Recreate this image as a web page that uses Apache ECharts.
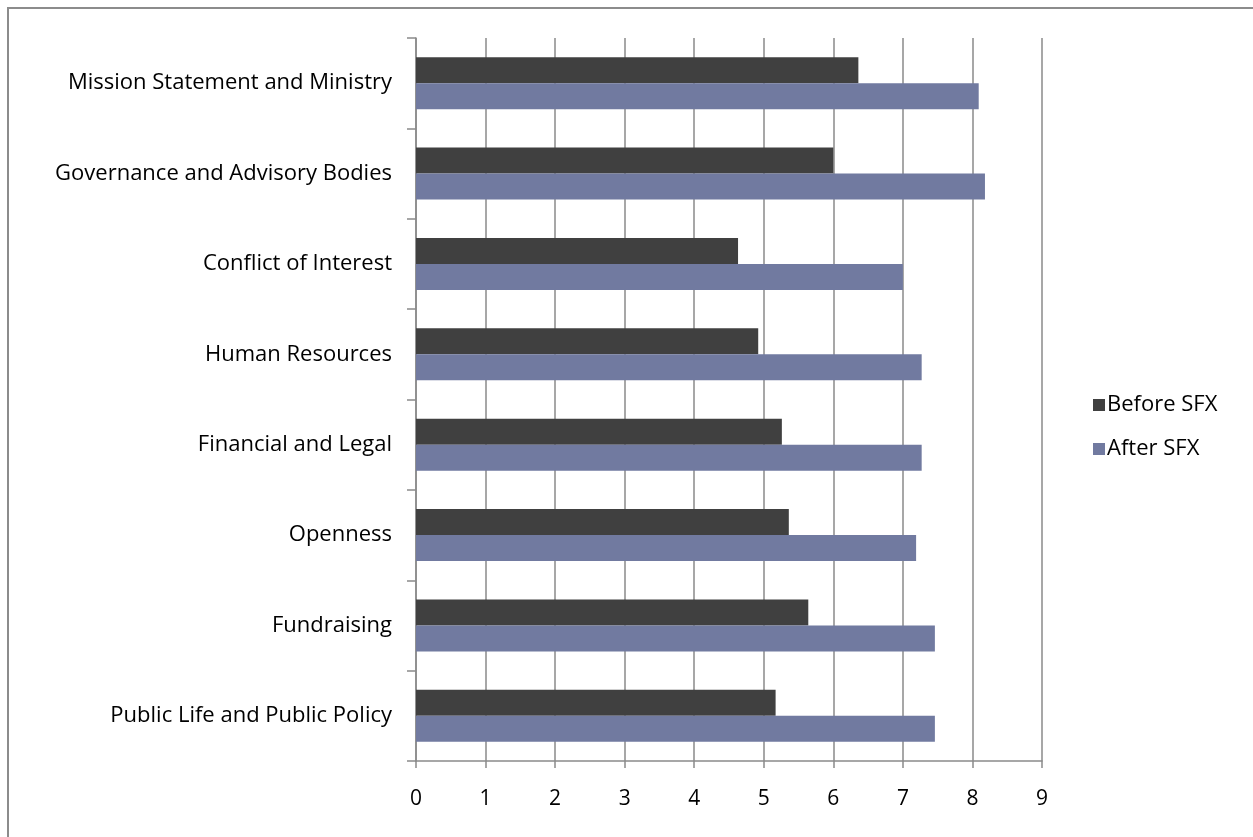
<!DOCTYPE html>
<html>
<head>
<meta charset="utf-8">
<script src="https://cdn.jsdelivr.net/npm/echarts@6/dist/echarts.min.js"></script>
<style>
  html, body { margin: 0; padding: 0; background: #fff; }
  #chart { width: 1253px; height: 837px; }
</style>
</head>
<body>
<div id="chart"></div>
<script>
// Survey areas, listed top to bottom
const categories = [
  'Mission Statement and Ministry',
  'Governance and Advisory Bodies',
  'Conflict of Interest',
  'Human Resources',
  'Financial and Legal',
  'Openness',
  'Fundraising',
  'Public Life and Public Policy'
];
const beforeSFX = [6.36, 6.0, 4.63, 4.92, 5.26, 5.36, 5.64, 5.17];
const afterSFX  = [8.09, 8.18, 7.0, 7.27, 7.27, 7.19, 7.46, 7.46];
const seriesNames = ['Before SFX', 'After SFX'];

const FONT = '"Open Sans", "DejaVu Sans", sans-serif';
const GRID_COLOR = '#8a8a8a';

const chart = echarts.init(document.getElementById('chart'));
chart.setOption({
  animation: false,
  textStyle: { fontFamily: FONT },
  graphic: [{
    type: 'rect',
    shape: { x: 8, y: 8, width: 1400, height: 1000 },
    style: { fill: 'none', stroke: '#8c8c8c', lineWidth: 2 },
    silent: true,
    z: -10
  }],
  legend: {
    orient: 'vertical',
    left: 1088,
    top: 389,
    itemWidth: 12,
    itemHeight: 12,
    itemGap: 22,
    icon: 'rect',
    textStyle: { fontSize: 22, color: '#000', fontFamily: FONT, padding: [0, 0, 0, -3] },
    data: seriesNames
  },
  grid: { left: 416, right: 211, top: 38, bottom: 76, containLabel: false },
  xAxis: {
    type: 'value',
    min: 0,
    max: 9,
    interval: 1,
    axisLine: { show: true, lineStyle: { color: GRID_COLOR, width: 1.5 } },
    axisTick: { show: true, length: 7, lineStyle: { color: GRID_COLOR, width: 1.5 } },
    splitLine: { show: true, lineStyle: { color: GRID_COLOR, width: 1.5 } },
    axisLabel: { color: '#000', fontSize: 21, margin: 28, fontFamily: FONT }
  },
  yAxis: {
    type: 'category',
    inverse: true,
    data: categories,
    axisLine: { show: true, lineStyle: { color: GRID_COLOR, width: 1.5 } },
    axisTick: { show: true, length: 9, lineStyle: { color: GRID_COLOR, width: 1.5 } },
    axisLabel: { color: '#000', fontSize: 22, margin: 24, fontFamily: FONT }
  },
  series: [
    {
      name: seriesNames[0],
      type: 'bar',
      data: beforeSFX,
      barWidth: 26,
      barGap: '0%',
      itemStyle: { color: '#404040' }
    },
    {
      name: seriesNames[1],
      type: 'bar',
      data: afterSFX,
      barWidth: 26,
      barGap: '0%',
      itemStyle: { color: '#717aa0' }
    }
  ]
});
</script>
</body>
</html>
